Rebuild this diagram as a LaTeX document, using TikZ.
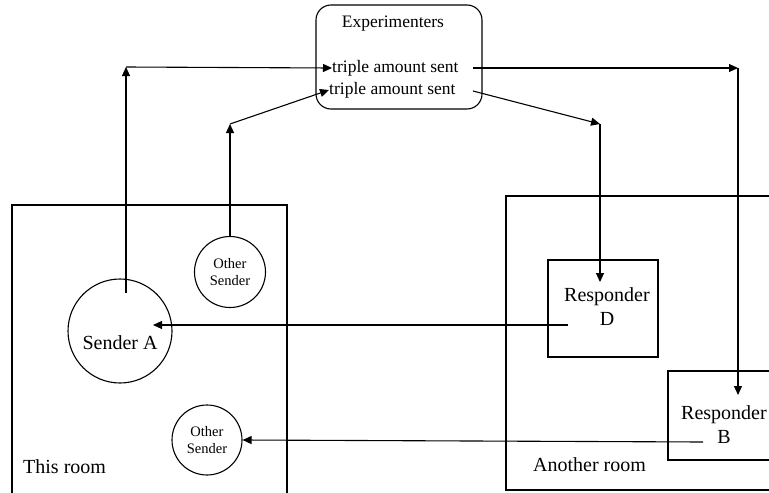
\documentclass[tikz,border=0pt]{standalone}
\usepackage{fontspec}
\setmainfont{Liberation Serif}
\usetikzlibrary{arrows.meta}
\begin{document}
\begin{tikzpicture}[x=1pt,y=-1pt,
  conn/.style={line width=1.1pt,-{Triangle[length=9pt,width=8pt]}},
  room/.style={draw,line width=1.1pt},
  big/.style={font=\fontsize{20}{24}\selectfont},
  mid/.style={font=\fontsize{17.5}{21}\selectfont},
  small/.style={font=\fontsize{14.5}{19}\selectfont},
  txt/.style={inner sep=0pt,align=center},
]
\useasboundingbox (0,0) rectangle (769,493);
\clip (0,0) rectangle (769,493);
\fill[white] (0,0) rectangle (769,493);

% rooms
\draw[room] (12,500) -- (12,205) -- (287,205) -- (287,500);
\draw[room] (506,196) rectangle (800,490);

% experimenters
\node[draw,line width=1.1pt,rounded corners=15pt,minimum width=166pt,minimum height=104pt,inner sep=0pt] (exp) at (399,57) {};
\node[txt,mid] (expt) at (393,24) {Experimenters};
\node[txt,mid,anchor=west] (t1) at (332,68) {triple amount sent};
\node[txt,mid,anchor=west] (t2) at (329,90) {triple amount sent};

% senders
\node[draw,circle,line width=1.1pt,minimum size=104pt,inner sep=0pt] (sA) at (120,331) {};
\node[txt,big] (sAt) at (120,343) {Sender A};
\node[draw,circle,line width=1.1pt,minimum size=71pt,inner sep=0pt,small,align=center] (os1) at (230,272) {Other\\[-2pt]Sender};
\node[draw,circle,line width=1.1pt,minimum size=70pt,inner sep=0pt,small,align=center] (os2) at (207,440) {Other\\[-2pt]Sender};

% responders
\node[draw,line width=1.1pt,minimum width=110pt,minimum height=97pt,inner sep=0pt] (rD) at (603,308.5) {};
\node[txt,big] (rDt) at (607,307) {Responder\\D};
\node[draw,line width=1.1pt,minimum width=140pt,minimum height=89pt,inner sep=0pt] (rB) at (738,415.5) {};
\node[txt,big] (rBt) at (724,425) {Responder\\B};

% room labels
\node[txt,big,anchor=west] (thisroom) at (23,467) {This room};
\node[txt,big,anchor=west] (anotherroom) at (533,465) {Another room};

% coordinates
\coordinate (a0) at (126,293);
\coordinate (b1) at (126,67);
\coordinate (b2) at (230,124);
\coordinate (o1) at (473,68);
\coordinate (b3) at (738,68);
\coordinate (bin) at (738,395);
\coordinate (o2) at (473,91);
\coordinate (b4) at (600,124);
\coordinate (din) at (600,282);
\coordinate (dout) at (568,325);
\coordinate (ain) at (153,325);
\coordinate (bout) at (703,442);

% connectors
\draw[conn] (a0) -- (b1);
\draw[conn] (b1) -- (t1.west);
\draw[conn] (os1.north) -- (b2);
\draw[conn] (b2) -- (t2.west);
\draw[conn] (o1) -- (b3);
\draw[conn] (b3) -- (bin);
\draw[conn] (o2) -- (b4);
\draw[conn] (b4) -- (din);
\draw[conn] (dout) -- (ain);
\draw[conn] (bout) -- (os2.east);
\end{tikzpicture}
\end{document}
